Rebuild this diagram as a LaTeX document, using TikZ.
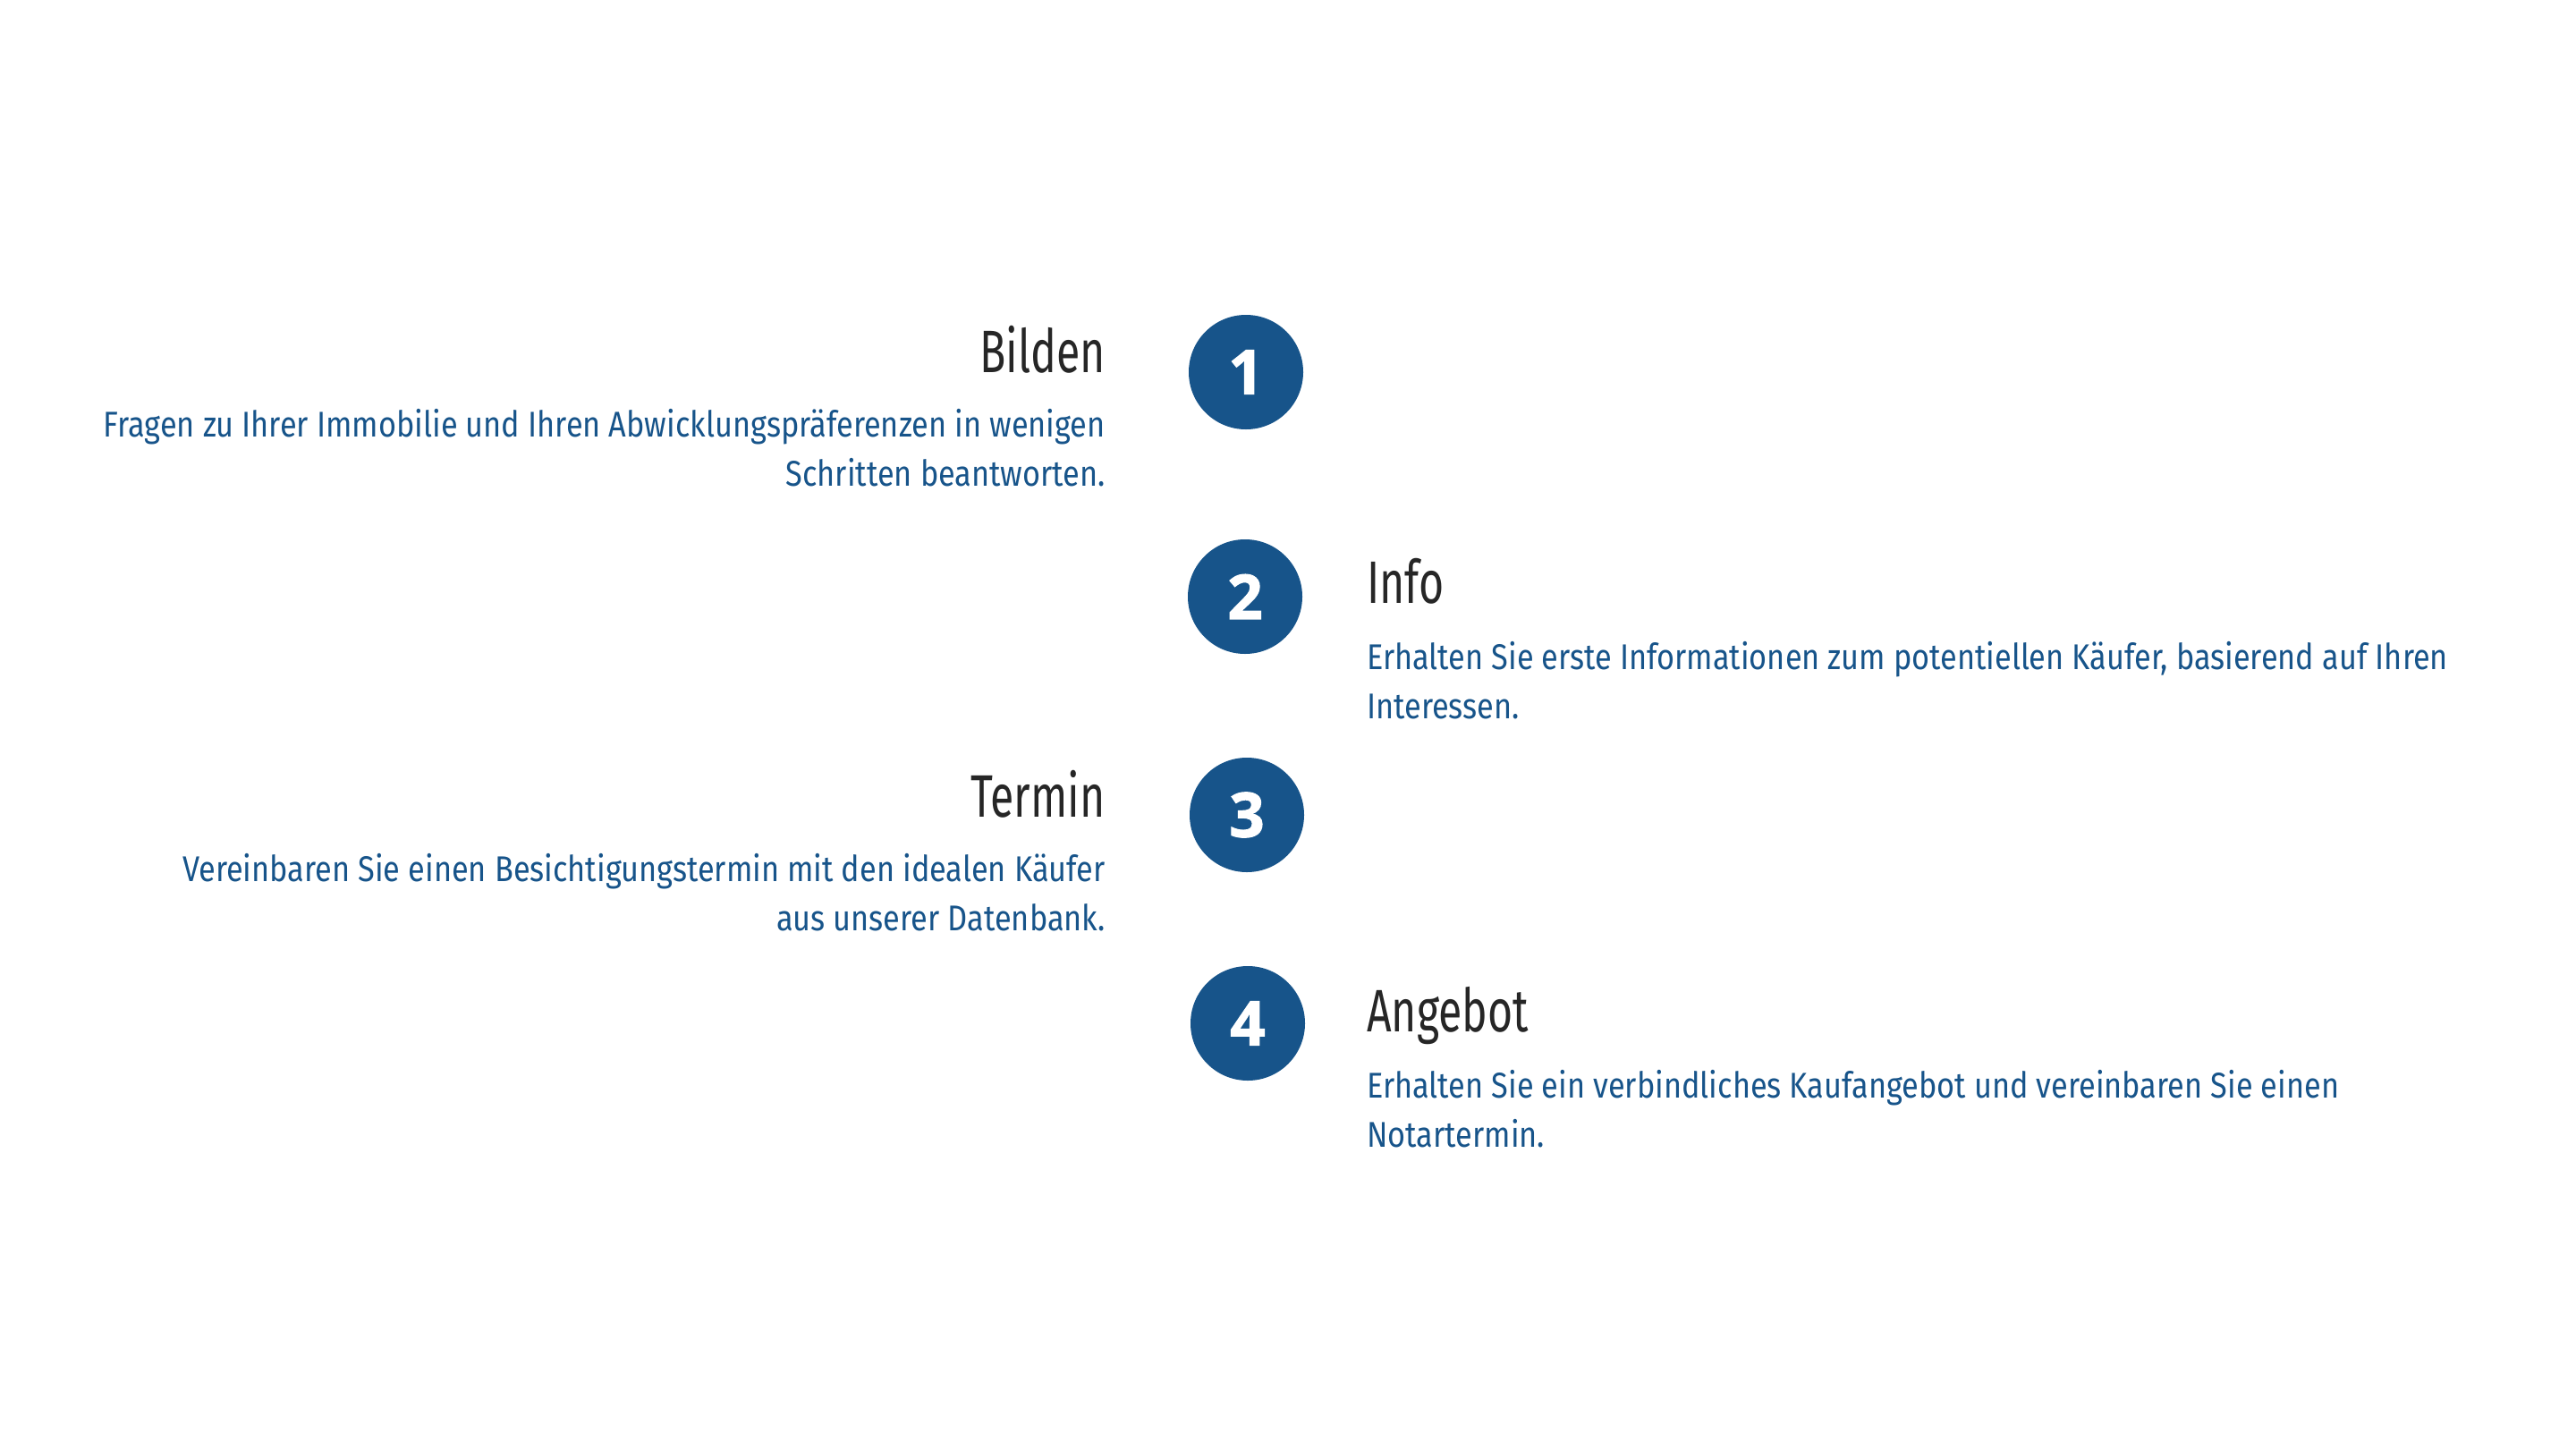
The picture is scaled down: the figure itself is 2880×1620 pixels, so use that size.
\documentclass[tikz,border=0pt]{standalone}
\usepackage{fontspec}
\newfontfamily\headfont[FakeStretch=0.72]{Fira Sans}
\newfontfamily\bodyfont[FakeStretch=0.858]{Fira Sans}
\newfontfamily\numfont[BoldFeatures={FakeBold=1.6}]{Open Sans}
\definecolor{stepblue}{RGB}{23,84,138}
\definecolor{headgray}{RGB}{38,38,38}
\begin{document}
\begin{tikzpicture}[x=1pt,y=-1pt,
  numcirc/.style={circle,fill=stepblue,minimum size=128pt,inner sep=0pt,text=white,font=\numfont\bfseries\fontsize{69}{69}\selectfont},
  headtxt/.style={inner sep=0pt,text=headgray,font=\headfont\fontsize{67}{67}\selectfont},
  bodytxt/.style={inner sep=0pt,text=stepblue,font=\bodyfont\fontsize{40}{40}\selectfont}]
\useasboundingbox[fill=white] (0,0) rectangle (2880,1620);
% circles
\node[numcirc] (c1) at (1393,416) {1};
\node[numcirc] (c2) at (1392,667) {2};
\node[numcirc] (c3) at (1394,911) {3};
\node[numcirc] (c4) at (1395,1144) {4};
% step 1
\node[headtxt,anchor=base east] (h1) at (1236,416) {Bilden};
\node[bodytxt,anchor=base east] (t1a) at (1236,488) {Fragen zu Ihrer Immobilie und Ihren Abwicklungspräferenzen in wenigen};
\node[bodytxt,anchor=base east] (t1b) at (1236,543) {Schritten beantworten.};
% step 2
\node[headtxt,anchor=base west] (h2) at (1528,674) {Info};
\node[bodytxt,anchor=base west] (t2a) at (1528,748) {Erhalten Sie erste Informationen zum potentiellen Käufer, basierend auf Ihren};
\node[bodytxt,anchor=base west] (t2b) at (1528,803) {Interessen.};
% step 3
\node[headtxt,anchor=base east] (h3) at (1236,913) {Termin};
\node[bodytxt,anchor=base east] (t3a) at (1236,985) {Vereinbaren Sie einen Besichtigungstermin mit den idealen Käufer};
\node[bodytxt,anchor=base east] (t3b) at (1236,1040) {aus unserer Datenbank.};
% step 4
\node[headtxt,anchor=base west] (h4) at (1528,1153) {Angebot};
\node[bodytxt,anchor=base west] (t4a) at (1528,1227) {Erhalten Sie ein verbindliches Kaufangebot und vereinbaren Sie einen};
\node[bodytxt,anchor=base west] (t4b) at (1528,1282) {Notartermin.};
\end{tikzpicture}
\end{document}
